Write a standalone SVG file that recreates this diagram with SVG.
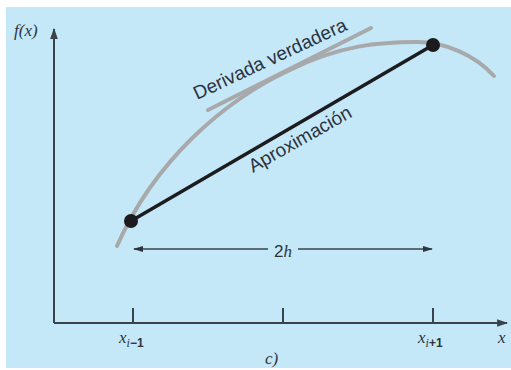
<svg xmlns="http://www.w3.org/2000/svg" width="511" height="370" viewBox="0 0 511 370">
<defs>
<style>
.axis{stroke:#3a434c;stroke-width:2;fill:none}
.gray{stroke:#a7a9ab;stroke-width:4;fill:none;stroke-linecap:round}
.lbl{font-family:"Liberation Sans",Arial,sans-serif;fill:#2c343d}
.ser{font-family:"Liberation Serif","Times New Roman",serif;font-style:italic;fill:#2c343d}
.dim{stroke:#3a434c;stroke-width:1.6;fill:none}
</style>
<marker id="ah" viewBox="0 0 10 10" refX="9" refY="5" markerWidth="10" markerHeight="10" markerUnits="userSpaceOnUse" orient="auto-start-reverse">
<path d="M0,2 L10,5 L0,8 Z" fill="#2c343d"/>
</marker>
<marker id="axh" viewBox="0 0 10 10" refX="9" refY="5" markerWidth="11" markerHeight="11" markerUnits="userSpaceOnUse" orient="auto">
<path d="M0,1.5 L10,5 L0,8.5 Z" fill="#3a434c"/>
</marker>
</defs>
<rect x="0" y="0" width="511" height="370" fill="#ffffff"/>
<rect x="6" y="7" width="505" height="361" fill="#c5e8f9"/>
<g id="axes">
<path class="axis" d="M54,323 L54,29" marker-end="url(#axh)"/>
<path class="axis" d="M54,323 L507,323" marker-end="url(#axh)"/>
<path class="axis" d="M133,323 V308 M283,323 V308 M433,323 V308"/>
</g>
<g id="curve">
<path class="gray" d="M117,246 C155,160 225,100 290,70 C340,45 380,42 417,42 C445,42 475,55 494,76"/>
</g>
<g id="tangent">
<path class="gray" d="M208,110 L371,28"/>
</g>
<g id="connectors">
<path d="M131,221 L433,45" stroke="#1c1c1e" stroke-width="3.5" fill="none"/>
<path class="dim" d="M268,249 L134,249" marker-end="url(#ah)"/>
<path class="dim" d="M298,249 L432,249" marker-end="url(#ah)"/>
</g>
<g id="point-left"><circle cx="131" cy="221" r="7" fill="#1c1c1e"/></g>
<g id="point-right"><circle cx="433" cy="45" r="7" fill="#1c1c1e"/></g>
<g id="labels">
<text class="lbl" font-size="19" transform="translate(197,100) rotate(-25)">Derivada verdadera</text>
<text class="lbl" font-size="19" transform="translate(253,173) rotate(-29.5)">Aproximación</text>
<text x="283" y="257" text-anchor="middle" font-size="17"><tspan class="lbl">2</tspan><tspan class="ser">h</tspan></text>
<text class="ser" x="14" y="36" font-size="17">f(x)</text>
<text class="ser" x="498" y="343" font-size="17">x</text>
<text class="ser" x="119" y="343" font-size="17">x<tspan font-size="12" dy="4">i</tspan><tspan class="lbl" font-style="normal" font-size="12" font-weight="bold">−1</tspan></text>
<text class="ser" x="418" y="343" font-size="17">x<tspan font-size="12" dy="4">i</tspan><tspan class="lbl" font-style="normal" font-size="12" font-weight="bold">+1</tspan></text>
<text class="ser" x="265" y="364" font-size="17">c)</text>
</g>
</svg>
